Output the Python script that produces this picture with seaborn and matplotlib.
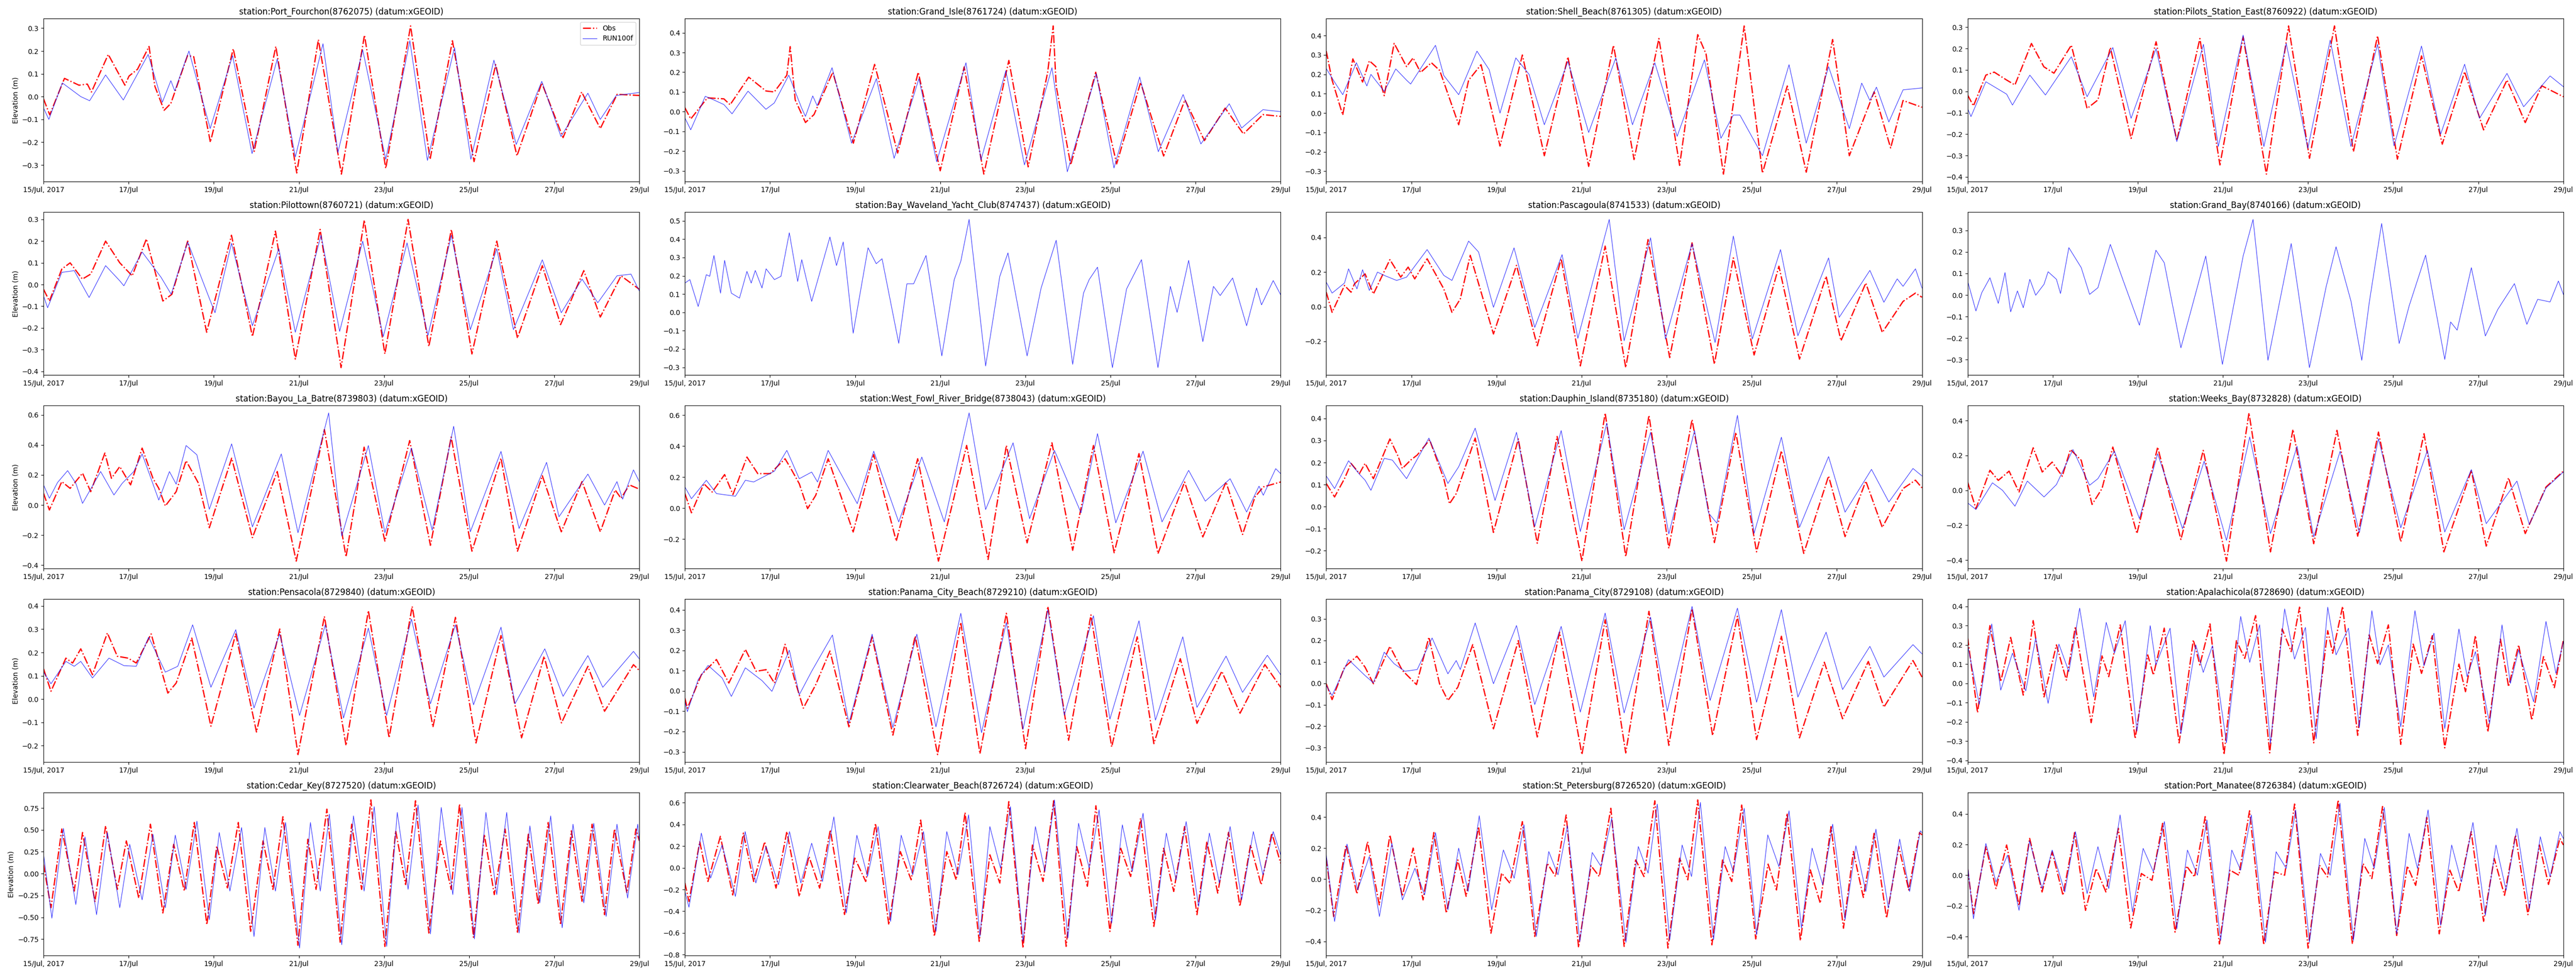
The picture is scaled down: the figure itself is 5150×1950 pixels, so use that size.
"""
Tide gauge comparison: observed water level vs RUN100f model, 20 Gulf stations
"""

import pandas as pd
import matplotlib
matplotlib.use("Agg")
import matplotlib.pyplot as plt
import seaborn as sns

# ========== TIME AXIS ==========
start = pd.Timestamp("2017-07-15")
tick_days = [0, 2, 4, 6, 8, 10, 12, 14]
tick_labels = ["15/Jul, 2017", "17/Jul", "19/Jul", "21/Jul",
               "23/Jul", "25/Jul", "27/Jul", "29/Jul"]

stations = ["Port_Fourchon", "Grand_Isle", "Shell_Beach", "Pilots_Station_East",
            "Pilottown", "Bay_Waveland_Yacht_Club", "Pascagoula", "Grand_Bay",
            "Bayou_La_Batre", "West_Fowl_River_Bridge", "Dauphin_Island", "Weeks_Bay",
            "Pensacola", "Panama_City_Beach", "Panama_City", "Apalachicola",
            "Cedar_Key", "Clearwater_Beach", "St_Petersburg", "Port_Manatee"]
station_ids = ["8762075", "8761724", "8761305", "8760922",
               "8760721", "8747437", "8741533", "8740166",
               "8739803", "8738043", "8735180", "8732828",
               "8729840", "8729210", "8729108", "8728690",
               "8727520", "8726724", "8726520", "8726384"]

# ========== DATA: (hours since 15 Jul 00:00, elevation m), read at turning points ==========
fourchon_obs = [(0, -0.01), (3.5, -0.08), (11.8, 0.08), (20, 0.05), (24.7, 0.055), (27, 0.02),
                (36.5, 0.185), (45.9, 0.05), (48.2, 0.09), (53, 0.12), (59.5, 0.22), (62.8, 0.045),
                (68, -0.06), (71.8, -0.03), (81.2, 0.18), (84.7, 0.175), (94.1, -0.2), (107, 0.21),
                (118.8, -0.24), (131, 0.22), (142.8, -0.335), (155, 0.25), (168, -0.34), (181, 0.27),
                (193, -0.315), (207, 0.31), (218, -0.275), (230.6, 0.245), (242.8, -0.285),
                (255, 0.14), (267, -0.26), (281, 0.06), (293, -0.18), (303.5, 0.02), (314, -0.14),
                (323.5, 0.01), (336, 0.005)]
fourchon_mod = [(0, -0.05), (3, -0.1), (10.6, 0.06), (21, 0.0), (26, -0.018), (35, 0.095),
                (45, -0.015), (59, 0.185), (67, -0.025), (71.8, 0.07), (74, 0.025), (82, 0.2),
                (94, -0.14), (106.6, 0.18), (117.6, -0.25), (131.8, 0.165), (142, -0.265),
                (157.6, 0.232), (166, -0.245), (180, 0.205), (193, -0.275), (206.6, 0.245),
                (216.5, -0.28), (231.8, 0.215), (241, -0.275), (254, 0.16), (266.6, -0.21),
                (281, 0.067), (291.8, -0.175), (307, 0.015), (314, -0.1), (323, 0.005), (336, 0.018)]

grand_isle_obs = [(0, 0.02), (3.3, -0.037), (12.7, 0.07), (22, 0.065), (25.5, 0.035), (36, 0.175),
                  (45.7, 0.105), (50.4, 0.1), (57.5, 0.185), (59.4, 0.33), (62.2, 0.06), (68, -0.055),
                  (72.8, -0.015), (83.4, 0.2), (95, -0.16), (107, 0.24), (120, -0.21), (131.6, 0.2),
                  (144, -0.3), (157.5, 0.227), (168.6, -0.317), (182.7, 0.26), (193.6, -0.28),
                  (204.6, 0.2), (207.7, 0.435), (209.4, 0.13), (217.6, -0.27), (231.7, 0.2),
                  (243.5, -0.265), (257, 0.148), (270, -0.225), (282, 0.06), (293, -0.147),
                  (304.7, 0.018), (315, -0.113), (326, -0.015), (336, -0.024)]
grand_isle_mod = [(0, -0.032), (3.3, -0.092), (11.5, 0.078), (16.2, 0.06), (22, 0.036), (26.6, -0.011),
                  (35.6, 0.104), (45.7, 0.012), (50.4, 0.044), (58.6, 0.185), (66, 0.015), (68, -0.024),
                  (72.1, 0.08), (74.6, 0.03), (83, 0.223), (94, -0.16), (108, 0.168), (118, -0.237),
                  (132, 0.168), (142, -0.254), (158.5, 0.248), (167, -0.245), (181, 0.208),
                  (191.5, -0.27), (207, 0.223), (215.7, -0.305), (232, 0.193), (242, -0.286),
                  (256.5, 0.176), (267, -0.203), (281, 0.087), (291, -0.164), (307, 0.04),
                  (314, -0.083), (326, 0.01), (336, 0.0)]

shell_beach_obs = [(0, 0.32), (3.3, 0.17), (9.3, -0.01), (15, 0.28), (20.5, 0.16), (24.3, 0.27),
                   (28, 0.24), (32.7, 0.09), (38.3, 0.36), (45.3, 0.24), (49, 0.285), (53.2, 0.21),
                   (59.3, 0.26), (64, 0.22), (74.7, -0.06), (80.3, 0.17), (87.3, 0.25), (98, -0.17),
                   (110.6, 0.3), (123, -0.22), (136.3, 0.29), (148, -0.275), (162, 0.35),
                   (173.6, -0.24), (187.6, 0.385), (199.3, -0.27), (209.5, 0.405), (214.2, 0.305),
                   (224, -0.315), (235.7, 0.45), (246, -0.31), (260, 0.14), (270.7, -0.305),
                   (285.6, 0.38), (295, -0.22), (309, 0.11), (318.3, -0.18), (325.3, 0.065), (336, 0.03)]
shell_beach_mod = [(0, 0.23), (4.7, 0.16), (9.3, 0.095), (17, 0.26), (22.9, 0.14), (25.2, 0.2),
                   (32.7, 0.112), (39.2, 0.228), (45.3, 0.17), (47.6, 0.15), (61.6, 0.35),
                   (66.3, 0.194), (74.7, 0.095), (85, 0.32), (91.9, 0.224), (98, 0.0), (106.9, 0.285),
                   (114.4, 0.2), (123, -0.06), (136.3, 0.267), (148, -0.1), (163.3, 0.285),
                   (172.7, -0.06), (185.3, 0.26), (197.9, -0.12), (213.3, 0.275), (222.6, -0.13),
                   (229.6, -0.01), (233.3, -0.01), (246, -0.22), (261, 0.25), (270.7, -0.155),
                   (283.3, 0.24), (295, -0.08), (302, 0.155), (306.6, 0.065), (310.3, 0.134),
                   (317.3, -0.046), (325.3, 0.12), (336, 0.13)]

pilots_obs = [(0, -0.017), (3.3, -0.068), (10.3, 0.076), (15, 0.09), (22, 0.053), (26.7, 0.03),
              (36, 0.224), (43, 0.115), (48.7, 0.085), (58.5, 0.216), (67.4, -0.08), (73.5, -0.04),
              (80.5, 0.205), (92.2, -0.22), (106.3, 0.232), (118, -0.23), (131, 0.247),
              (142.3, -0.344), (155.4, 0.255), (168.5, -0.387), (181, 0.306), (192.8, -0.313),
              (206.9, 0.306), (217.6, -0.282), (231.2, 0.26), (242.4, -0.317), (256, 0.166),
              (267.7, -0.247), (280.3, 0.092), (291, -0.18), (304.2, 0.053), (314.5, -0.146),
              (323.8, 0.026), (336, -0.025)]
pilots_mod = [(0, -0.08), (1.9, -0.118), (10.3, 0.045), (22, -0.013), (25.3, -0.064), (35.1, 0.076),
              (43.9, -0.017), (58.5, 0.162), (67.4, -0.025), (81.9, 0.205), (92.2, -0.126),
              (106.3, 0.2), (118, -0.235), (133, 0.22), (141.4, -0.258), (155.4, 0.263),
              (167.1, -0.258), (179.7, 0.224), (191.9, -0.266), (204.5, 0.24), (216.2, -0.258),
              (231.2, 0.22), (240.5, -0.255), (256, 0.212), (266.8, -0.2), (280.3, 0.127),
              (288.7, -0.126), (304.2, 0.084), (313.6, -0.072), (328.5, 0.072), (336, 0.022)]

pilottown_obs = [(0, -0.022), (3.3, -0.076), (10.3, 0.071), (15, 0.1), (21.9, 0.025), (26.6, 0.048),
                 (35, 0.2), (43, 0.1), (50, 0.04), (58, 0.21), (67.3, -0.076), (72.4, -0.045),
                 (81.3, 0.2), (92, -0.22), (106, 0.227), (117.8, -0.24), (130.8, 0.246),
                 (142, -0.344), (156, 0.254), (167.8, -0.383), (180.9, 0.297), (192.5, -0.32),
                 (205.6, 0.3), (217.3, -0.286), (230, 0.254), (241.6, -0.32), (255.6, 0.2),
                 (267.3, -0.247), (281.3, 0.087), (291.6, -0.185), (304.7, 0.064), (314, -0.15),
                 (325.7, 0.04), (336, -0.022)]
pilottown_mod = [(0, -0.053), (2.3, -0.107), (10.3, 0.056), (17.3, 0.064), (25.7, -0.06), (35, 0.087),
                 (43, 0.017), (45.3, -0.006), (55.6, 0.15), (66.3, 0.033), (72, -0.045),
                 (81.3, 0.196), (93, -0.053), (96.7, -0.13), (106, 0.19), (117.8, -0.19),
                 (132.7, 0.165), (142, -0.22), (156.5, 0.227), (167, -0.216), (180, 0.2),
                 (191.6, -0.24), (205, 0.192), (216.8, -0.235), (230, 0.227), (240.7, -0.208),
                 (255.6, 0.165), (265, -0.208), (281.3, 0.114), (292, -0.13), (303.7, 0.025),
                 (312.6, -0.084), (323.4, 0.04), (331.3, 0.048), (336, -0.03)]

bay_waveland_mod = [(0, 0.16), (2.8, 0.179), (7.5, 0.032), (12.1, 0.206), (14, 0.197), (16.4, 0.311),
                    (20.1, 0.105), (22.4, 0.284), (26.2, 0.105), (30.8, 0.078), (35, 0.224),
                    (37.4, 0.16), (39.7, 0.229), (43.5, 0.133), (45.8, 0.238), (50.5, 0.179),
                    (54.2, 0.197), (58.9, 0.435), (63.6, 0.169), (65.9, 0.288), (71.5, 0.06),
                    (81.8, 0.412), (85.5, 0.256), (89.3, 0.385), (94.9, -0.114), (103.3, 0.353),
                    (107.9, 0.266), (111.2, 0.293), (120.6, -0.169), (125.2, 0.156), (129, 0.156),
                    (136, 0.311), (144.9, -0.238), (151.9, 0.179), (155.6, 0.279), (160.3, 0.508),
                    (169.6, -0.293), (177.6, 0.197), (182.2, 0.325), (193, -0.238), (200.9, 0.133),
                    (209.4, 0.394), (218.7, -0.284), (224.8, 0.105), (228, 0.179), (232.7, 0.247),
                    (241.1, -0.302), (249.1, 0.128), (257.5, 0.288), (266.8, -0.302), (273.8, 0.142),
                    (277.6, 0.0), (284.1, 0.284), (292.1, -0.16), (298.1, 0.142), (301.9, 0.092),
                    (308.9, 0.188), (316.8, -0.073), (322.4, 0.133), (325.2, 0.041), (331.8, 0.174),
                    (336, 0.096)]

pascagoula_obs = [(0, 0.084), (3.3, -0.032), (10.3, 0.123), (14, 0.084), (15.9, 0.132), (21.9, 0.19),
                  (26.6, 0.074), (35.9, 0.272), (42, 0.171), (46.2, 0.229), (49.9, 0.161),
                  (56.9, 0.277), (61.6, 0.19), (66.3, 0.103), (70.9, -0.032), (75.6, 0.045),
                  (81.2, 0.297), (94.3, -0.157), (107.3, 0.239), (119, -0.225), (132.5, 0.277),
                  (143.3, -0.341), (157.3, 0.35), (168.9, -0.351), (181.5, 0.388), (193.7, -0.293),
                  (206.3, 0.369), (218.9, -0.331), (229.6, 0.282), (241.3, -0.278), (255.3, 0.234),
                  (266.9, -0.302), (281.9, 0.176), (290.3, -0.196), (304.3, 0.137), (313.6, -0.148),
                  (325.3, 0.031), (332.3, 0.079), (336, 0.055)]
pascagoula_mod = [(0, 0.142), (3.3, 0.079), (10.3, 0.137), (12.6, 0.219), (17.3, 0.103), (20.5, 0.214),
                  (24.3, 0.094), (28.9, 0.2), (32.7, 0.181), (39.7, 0.152), (45.3, 0.171),
                  (56.9, 0.33), (66.3, 0.181), (70.9, 0.152), (80.3, 0.379), (85.9, 0.316),
                  (94.3, -0.003), (105.9, 0.34), (117.6, -0.119), (133, 0.301), (141.9, -0.182),
                  (159.6, 0.504), (168, -0.196), (182.9, 0.398), (191.3, -0.186), (206.3, 0.364),
                  (219.3, -0.206), (229.6, 0.408), (240.3, -0.186), (256.2, 0.33), (266, -0.167),
                  (283.3, 0.282), (289.3, -0.061), (306.6, 0.21), (314.5, 0.026), (322, 0.161),
                  (325.3, 0.118), (332.3, 0.219), (336, 0.108)]

grand_bay_mod = [(0, 0.065), (4.7, -0.074), (8, 0.011), (12.6, 0.08), (17.3, -0.039), (21.1, 0.104),
                 (24.3, -0.078), (28.1, 0.019), (31.4, -0.059), (35.1, 0.073), (38.4, -0.001),
                 (43.1, 0.05), (45.4, 0.108), (50.1, 0.073), (52.4, 0.007), (57.1, 0.22),
                 (64.1, 0.127), (68.8, 0.003), (73.5, 0.034), (80.5, 0.235), (87.5, 0.073),
                 (96.9, -0.14), (106.2, 0.208), (110.9, 0.15), (120.3, -0.245), (134.3, 0.181),
                 (143.7, -0.322), (155.4, 0.181), (161, 0.351), (169.4, -0.303), (182.5, 0.239),
                 (192.8, -0.337), (202.2, 0.038), (207.8, 0.224), (216.2, -0.028), (222.3, -0.303),
                 (226.5, -0.036), (233.5, 0.332), (243.4, -0.225), (249, -0.051), (258.3, 0.185),
                 (269.1, -0.299), (272.4, -0.125), (276.1, -0.163), (284.1, 0.127), (292, -0.19),
                 (299, -0.067), (308.4, 0.053), (315.4, -0.136), (321.5, -0.02), (328.5, -0.032),
                 (333.2, 0.065), (336, 0.003)]

bayou_obs = [(0, 0.078), (3.3, -0.033), (10.3, 0.156), (15, 0.111), (22, 0.212), (26.6, 0.089),
             (34.6, 0.346), (38.3, 0.178), (43, 0.256), (49.1, 0.134), (55.6, 0.379), (61.7, 0.178),
             (65, 0.111), (68.7, -0.006), (74.8, 0.089), (80.4, 0.295), (87.4, 0.145),
             (93.5, -0.151), (106.1, 0.312), (117.8, -0.217), (131.8, 0.223), (142.5, -0.373),
             (158.4, 0.502), (170.6, -0.345), (180.8, 0.385), (192.5, -0.24), (206.5, 0.429),
             (218.2, -0.268), (229.9, 0.452), (241.6, -0.307), (258, 0.312), (267.3, -0.307),
             (281.3, 0.195), (292, -0.178), (303.7, 0.156), (314, -0.178), (322.4, 0.1),
             (325.7, 0.045), (330.4, 0.134), (336, 0.106)]
bayou_mod = [(0, 0.134), (3.3, 0.045), (7.9, 0.15), (13.6, 0.229), (18.2, 0.145), (22, 0.011),
             (32.2, 0.223), (39.7, 0.067), (44.4, 0.145), (50.9, 0.223), (55.6, 0.34), (65, 0.033),
             (71, 0.223), (74.8, 0.139), (80.4, 0.396), (86.5, 0.334), (93.5, -0.028),
             (106.1, 0.407), (117.8, -0.145), (134.1, 0.34), (143.5, -0.184), (160.8, 0.613),
             (168.2, -0.206), (183.2, 0.396), (192.5, -0.184), (207.5, 0.379), (219.2, -0.167),
             (231.3, 0.524), (240.7, -0.178), (258, 0.357), (268.2, -0.156), (283.7, 0.284),
             (290.7, -0.078), (307, 0.206), (316.4, 0.0), (323.4, 0.156), (326.6, 0.039),
             (332.7, 0.234), (336, 0.156)]

west_fowl_obs = [(0, 0.094), (3.7, -0.03), (10.7, 0.158), (15.4, 0.104), (22.4, 0.217), (27.1, 0.088),
                 (35, 0.33), (41.1, 0.223), (48.1, 0.223), (56.5, 0.319), (59.8, 0.255),
                 (64.5, 0.158), (69.2, -0.003), (73.8, 0.083), (80.8, 0.319), (94.9, -0.154),
                 (106.5, 0.346), (119.2, -0.213), (131.3, 0.319), (143, -0.342), (158.9, 0.405),
                 (171, -0.331), (181.3, 0.405), (193, -0.224), (207, 0.422), (218.7, -0.272),
                 (230.4, 0.405), (242.1, -0.288), (256.1, 0.352), (266.8, -0.294), (281.8, 0.169),
                 (292.1, -0.186), (305.2, 0.169), (314.5, -0.17), (321.5, 0.072), (326.2, 0.137),
                 (336, 0.169)]
west_fowl_mod = [(0, 0.137), (3.7, 0.061), (12.1, 0.18), (17.8, 0.094), (28.5, 0.077), (34.1, 0.18),
                 (38.8, 0.169), (50.5, 0.239), (57.5, 0.373), (64.5, 0.19), (71.5, 0.233),
                 (74.8, 0.169), (80.8, 0.373), (97.2, 0.029), (106.5, 0.368), (120.6, -0.089),
                 (133.6, 0.33), (146.3, -0.089), (160.3, 0.615), (169.6, -0.009), (185.1, 0.422),
                 (194.4, -0.068), (208.4, 0.373), (223.4, -0.03), (232.7, 0.481), (243, -0.095),
                 (258.4, 0.368), (269.1, -0.089), (284.1, 0.244), (293.5, 0.045), (307.5, 0.19),
                 (316.8, -0.025), (323.8, 0.142), (326.2, 0.083), (333.2, 0.255), (336, 0.223)]

dauphin_obs = [(0, 0.105), (4.7, 0.044), (10.3, 0.127), (14, 0.196), (18.7, 0.15), (21.9, 0.196),
               (26.6, 0.127), (35.9, 0.307), (40.6, 0.227), (42.9, 0.173), (47.6, 0.211),
               (51.3, 0.234), (58.3, 0.303), (66.3, 0.127), (69.5, 0.013), (73.3, 0.059),
               (84, 0.311), (94.3, -0.117), (108.3, 0.307), (119, -0.166), (130.2, 0.318),
               (144.2, -0.247), (157.3, 0.425), (168.9, -0.227), (182, 0.414), (193.2, -0.189),
               (206.3, 0.395), (218.9, -0.163), (231, 0.337), (242.7, -0.205), (256.7, 0.253),
               (269.3, -0.212), (283.3, 0.139), (292.6, -0.136), (304.3, 0.116), (313.6, -0.094),
               (325.3, 0.082), (332.3, 0.12), (336, 0.085)]
dauphin_mod = [(0, 0.139), (4.7, 0.082), (12.6, 0.208), (18.7, 0.147), (21.9, 0.12), (25.2, 0.074),
               (32.7, 0.219), (37.3, 0.211), (45.3, 0.127), (57.9, 0.311), (68.6, 0.105),
               (74.7, 0.181), (84, 0.356), (95.2, 0.028), (107.3, 0.337), (117.6, -0.09),
               (132.5, 0.345), (143.3, -0.113), (158.2, 0.379), (168, -0.105), (182.9, 0.337),
               (193.2, -0.124), (207.7, 0.345), (215.6, -0.029), (220.3, -0.075), (231.9, 0.414),
               (241.3, -0.121), (256.7, 0.315), (266.9, -0.094), (283.3, 0.227), (292.6, -0.025),
               (307.5, 0.169), (317.3, 0.021), (330.9, 0.173), (336, 0.139)]

weeks_obs = [(0, 0.048), (4.7, -0.105), (12.6, 0.115), (17.3, 0.057), (23.4, 0.11), (29, -0.01),
             (37, 0.244), (42.1, 0.105), (47.7, 0.162), (53.4, 0.081), (58, 0.234), (64.1, 0.172),
             (70.2, -0.081), (75.8, 0.01), (81.9, 0.248), (95.5, -0.248), (107.2, 0.248),
             (120.3, -0.282), (132.9, 0.229), (146, -0.406), (158.7, 0.444), (170.8, -0.353),
             (183.5, 0.349), (195.2, -0.306), (208.3, 0.344), (220, -0.263), (231.7, 0.334),
             (244.3, -0.296), (257.4, 0.325), (268.6, -0.353), (284.1, 0.115), (292.5, -0.32),
             (305.1, 0.072), (314.5, -0.248), (326.2, 0.019), (336, 0.11)]
weeks_mod = [(0, -0.072), (4.7, -0.11), (14, 0.043), (19.7, 0.0), (26.7, -0.091), (33.7, 0.053),
             (43.1, -0.038), (50.1, 0.033), (59.4, 0.234), (68.8, 0.029), (73.5, 0.067),
             (82.8, 0.224), (96.9, -0.162), (107.2, 0.21), (121.2, -0.22), (133.4, 0.167),
             (146, -0.287), (159.1, 0.306), (170.8, -0.248), (185.8, 0.253), (195.2, -0.267),
             (210.1, 0.224), (220.9, -0.244), (231.7, 0.296), (244.3, -0.215), (259.3, 0.229),
             (269.1, -0.239), (284.1, 0.119), (292.5, -0.191), (309.8, 0.053), (316.8, -0.196),
             (326.2, 0.014), (336, 0.105)]

pensacola_obs = [(0, 0.13), (4.2, 0.034), (12.6, 0.176), (16.4, 0.155), (21, 0.216), (27.6, 0.105),
                 (36, 0.284), (41.6, 0.184), (47.7, 0.176), (52.3, 0.155), (60.7, 0.28),
                 (70.1, 0.026), (74.8, 0.069), (83.6, 0.262), (94.4, -0.116), (108.4, 0.28),
                 (120.1, -0.141), (133.2, 0.301), (143.5, -0.238), (158.4, 0.355), (170.6, -0.199),
                 (183.2, 0.38), (194.9, -0.166), (207.9, 0.398), (219.6, -0.12), (232.3, 0.351),
                 (243.9, -0.188), (258, 0.273), (269.6, -0.166), (282.3, 0.184), (292.1, -0.102),
                 (307, 0.141), (316.4, -0.052), (332.7, 0.148), (336, 0.123)]
pensacola_mod = [(0, 0.116), (4.2, 0.066), (12.6, 0.162), (17.3, 0.141), (21, 0.162), (27.6, 0.091),
                 (36.9, 0.176), (45.3, 0.144), (52.3, 0.141), (59.3, 0.266), (68.7, 0.116),
                 (75.7, 0.141), (84.1, 0.319), (94.4, 0.051), (108.4, 0.298), (118.7, -0.038),
                 (133.2, 0.28), (144.4, -0.07), (158.9, 0.319), (169.2, -0.081), (183.2, 0.305),
                 (193.5, -0.07), (207.5, 0.344), (218.2, -0.02), (232.3, 0.319), (242.5, -0.024),
                 (258, 0.309), (265.9, -0.02), (282.7, 0.216), (293, 0.012), (307, 0.187),
                 (315.4, 0.051), (332.7, 0.205), (336, 0.173)]

pc_beach_obs = [(0, -0.036), (1.4, -0.085), (9.3, 0.08), (17.8, 0.155), (24.8, 0.039), (34.1, 0.205),
                (40.2, 0.097), (45.8, 0.105), (50.5, 0.039), (56.5, 0.23), (62.2, 0.047),
                (66.8, -0.085), (73.8, 0.031), (81.8, 0.197), (92.5, -0.177), (105.6, 0.267),
                (117.3, -0.218), (129.9, 0.271), (142.5, -0.314), (155.6, 0.338), (166.4, -0.31),
                (181.3, 0.383), (192.1, -0.285), (204.7, 0.417), (216.4, -0.243), (229, 0.375),
                (240.7, -0.276), (255.1, 0.267), (264.5, -0.26), (279.4, 0.159), (288.8, -0.16),
                (302.8, 0.097), (313.1, -0.11), (327.1, 0.13), (336, 0.018)]
pc_beach_mod = [(0, -0.052), (1.4, -0.102), (7.5, 0.056), (13.1, 0.126), (21, 0.064), (26.2, -0.027),
                (34.1, 0.114), (43.5, 0.051), (49.1, -0.002), (58.9, 0.201), (64.5, -0.019),
                (71.5, 0.097), (83.2, 0.276), (92.5, -0.16), (105.6, 0.28), (117.3, -0.181),
                (130.8, 0.28), (141.6, -0.177), (155.6, 0.383), (167.3, -0.206), (181.3, 0.338),
                (190.7, -0.189), (204.7, 0.4), (214, -0.119), (230.4, 0.371), (239.7, -0.139),
                (256.1, 0.346), (265.4, -0.144), (280.8, 0.267), (288.8, -0.081), (305.2, 0.172),
                (314.5, -0.007), (328.5, 0.176), (336, 0.08)]

pc_obs = [(0, -0.002), (3.3, -0.076), (10.3, 0.075), (17.3, 0.126), (21.9, 0.075), (26.6, -0.002),
          (35.9, 0.172), (42.9, 0.06), (50.9, -0.006), (57.9, 0.215), (63.9, -0.002),
          (68.6, -0.08), (74.2, -0.018), (82.6, 0.18), (94.3, -0.212), (108.3, 0.199),
          (119, -0.25), (131.6, 0.238), (144.2, -0.332), (157.3, 0.296), (168.9, -0.324),
          (182, 0.335), (193.2, -0.289), (206.3, 0.347), (217.9, -0.243), (231.9, 0.312),
          (242.7, -0.262), (256.7, 0.219), (266.9, -0.254), (280.9, 0.098), (291.2, -0.165),
          (305.7, 0.102), (314.5, -0.111), (330.9, 0.106), (336, 0.029)]
pc_mod = [(0, -0.01), (3.3, -0.057), (12.6, 0.11), (21.9, 0.036), (26.6, 0.002), (32.7, 0.145),
          (38.3, 0.091), (44.3, 0.056), (51.3, 0.064), (59.7, 0.211), (68.6, 0.044),
          (73.3, 0.106), (75.6, 0.064), (84, 0.281), (94.3, -0.002), (107.3, 0.269),
          (117.6, -0.099), (132.5, 0.265), (143.3, -0.134), (157.3, 0.327), (168, -0.138),
          (182.9, 0.308), (192.3, -0.13), (206.3, 0.358), (216.5, -0.08), (231.9, 0.35),
          (242.7, -0.088), (256.7, 0.343), (266, -0.064), (281.9, 0.238), (291.2, -0.029),
          (306.6, 0.172), (314.5, 0.029), (330.9, 0.18), (336, 0.137)]

apalach_obs = [(0, 0.239), (5.6, -0.152), (12.6, 0.3), (18.7, 0.009), (24.3, 0.239), (31.4, -0.061),
               (37, 0.326), (43.1, -0.07), (50.1, 0.2), (55.7, 0.017), (60.8, 0.296), (69.7, -0.204),
               (75.8, 0.143), (79.6, 0.035), (86.1, 0.304), (94.5, -0.287), (101.6, 0.148),
               (104.8, 0.043), (110.9, 0.287), (119.3, -0.309), (127.3, 0.226), (131, 0.096),
               (136.7, 0.309), (144.6, -0.37), (151.6, 0.222), (156.3, 0.13), (162.4, 0.352),
               (170.4, -0.361), (177.4, 0.283), (182.5, 0.165), (187.2, 0.396), (195.2, -0.309),
               (203.1, 0.274), (205.9, 0.157), (211.5, 0.4), (220, -0.27), (226.5, 0.252),
               (231.2, 0.104), (237.3, 0.304), (244.3, -0.317), (251.3, 0.204), (256, 0.052),
               (262.1, 0.248), (269.1, -0.335), (277.1, 0.1), (280.8, -0.043), (286.4, 0.248),
               (293.4, -0.252), (300.5, 0.23), (305.1, -0.017), (310.8, 0.2), (318.2, -0.191),
               (324.8, 0.139), (330.9, -0.022), (336, 0.226)]
apalach_mod = [(0, 0.2), (6.6, -0.109), (13.6, 0.309), (18.7, -0.035), (25.3, 0.157), (32.8, -0.039),
               (38.4, 0.235), (45.4, -0.104), (51.5, 0.204), (57.1, 0.061), (63.2, 0.391),
               (71.1, -0.07), (78.2, 0.317), (82.8, 0.157), (88.9, 0.326), (95.5, -0.248),
               (103, 0.3), (106.2, 0.096), (114.2, 0.287), (120.3, -0.261), (128.7, 0.2),
               (132.9, 0.057), (138.1, 0.196), (146, -0.309), (154, 0.348), (159.1, 0.109),
               (164.7, 0.304), (170.8, -0.313), (178.8, 0.387), (184.4, 0.126), (190.5, 0.291),
               (196.6, -0.287), (203.1, 0.396), (207.8, 0.148), (214.8, 0.287), (220.9, -0.23),
               (228, 0.378), (232.6, 0.096), (237.3, 0.2), (244.3, -0.226), (252.3, 0.378),
               (257.4, 0.091), (263, 0.261), (269.1, -0.235), (277.1, 0.283), (281.7, 0.035),
               (286.4, 0.165), (294.4, -0.209), (301.4, 0.304), (306.1, 0.0), (310.8, 0.174),
               (319.2, -0.096), (326.2, 0.322), (331.8, 0.052), (336, 0.217)]

cedar_key_obs = [(0, 0.105), (4.2, -0.39), (10.3, 0.51), (17.3, -0.2), (22, 0.47), (29, -0.32),
                 (35, 0.546), (41.6, -0.18), (46.7, 0.374), (53.7, -0.28), (60.3, 0.565),
                 (67.3, -0.45), (73.4, 0.335), (79.4, -0.2), (85, 0.585), (92.1, -0.585),
                 (97.7, 0.316), (103.7, -0.163), (109.8, 0.585), (116.8, -0.66), (123.8, 0.374),
                 (129.4, -0.18), (135, 0.65), (143.5, -0.82), (149.1, 0.393), (153.7, -0.18),
                 (159.8, 0.737), (167.3, -0.785), (173.8, 0.565), (179.4, -0.18), (184.6, 0.843),
                 (192.5, -0.833), (198.6, 0.489), (204.2, -0.125), (209.8, 0.833), (217.3, -0.68),
                 (223.8, 0.374), (229.9, -0.18), (234.6, 0.795), (242.5, -0.728), (248.6, 0.45),
                 (254.2, -0.24), (260.3, 0.51), (267.3, -0.67), (273.4, 0.45), (279, -0.354),
                 (284.6, 0.585), (291.6, -0.585), (297.7, 0.489), (303.7, -0.316), (309.4, 0.565),
                 (316.4, -0.47), (322, 0.51), (329, -0.22), (334.1, 0.51), (336, 0.374)]
cedar_key_mod = [(0, 0.22), (4.7, -0.51), (11.2, 0.517), (18.2, -0.354), (23.4, 0.42), (29.9, -0.47),
                 (36, 0.47), (43, -0.39), (48.6, 0.335), (55.6, -0.3), (61.7, 0.45), (68.7, -0.39),
                 (74.3, 0.44), (80.4, -0.18), (86.5, 0.6), (93.5, -0.527), (99.1, 0.47),
                 (105.1, -0.2), (111.7, 0.527), (118.7, -0.72), (124.8, 0.527), (130.8, -0.2),
                 (136.5, 0.585), (144.4, -0.852), (150.5, 0.585), (156.1, -0.2), (161.2, 0.68),
                 (168.2, -0.814), (174.8, 0.66), (180.8, -0.2), (186.5, 0.766), (193.5, -0.833),
                 (199.5, 0.7), (205.6, -0.18), (211.2, 0.785), (218.2, -0.69), (224.3, 0.757),
                 (230.8, -0.24), (236, 0.757), (243, -0.747), (249.5, 0.7), (255.6, -0.24),
                 (261.2, 0.7), (268.2, -0.68), (274.3, 0.546), (279.9, -0.335), (286, 0.66),
                 (292.5, -0.62), (298.6, 0.565), (304.7, -0.335), (310.3, 0.575), (317.3, -0.49),
                 (323.4, 0.565), (329.4, -0.28), (335.1, 0.565), (336, 0.374)]

clearwater_obs = [(0, -0.14), (2.3, -0.31), (8.4, 0.24), (13, -0.126), (20, 0.29), (27, -0.25),
                  (33, 0.32), (38.8, -0.126), (45, 0.24), (51.4, -0.187), (57.5, 0.334),
                  (64.5, -0.264), (70, 0.104), (76, -0.187), (82, 0.35), (90, -0.43), (95.8, 0.09),
                  (102, -0.126), (107.5, 0.41), (115, -0.525), (121.5, 0.15), (127.6, -0.11),
                  (133, 0.44), (140.7, -0.632), (147.7, 0.15), (153, -0.11), (158, 0.51),
                  (166, -0.678), (172, 0.12), (177.6, -0.14), (182.7, 0.61), (190.7, -0.74),
                  (196, 0.21), (202, -0.126), (208, 0.618), (215, -0.724), (221, 0.196),
                  (227, -0.17), (231.8, 0.572), (239.7, -0.586), (245.8, 0.18), (251.4, -0.08),
                  (257, 0.457), (264.5, -0.54), (270, 0.18), (275.7, -0.218), (281.8, 0.38),
                  (288.8, -0.432), (294.4, 0.242), (300.5, -0.233), (306.6, 0.327), (313, -0.356),
                  (319, 0.21), (325, -0.156), (331, 0.32), (336, 0.043)]
clearwater_mod = [(0, -0.218), (2.3, -0.363), (9.3, 0.32), (14.5, -0.095), (21, 0.21), (28.5, -0.264),
                  (34, 0.334), (40, -0.14), (45.8, 0.196), (52.8, -0.156), (59, 0.334),
                  (65.4, -0.14), (71.5, 0.227), (77.6, -0.126), (84, 0.47), (91, -0.417), (97, 0.3),
                  (103, -0.08), (109, 0.38), (116, -0.494), (122, 0.3), (128.5, -0.064),
                  (134.6, 0.334), (141.6, -0.586), (147.7, 0.334), (154, -0.064), (160, 0.488),
                  (166.4, -0.632), (172, 0.38), (178, -0.003), (183.6, 0.564), (190.7, -0.678),
                  (197.7, 0.38), (203, -0.034), (208.4, 0.626), (216, -0.647), (222, 0.41),
                  (228, -0.003), (233.6, 0.534), (240.7, -0.51), (246.7, 0.396), (252.3, -0.034),
                  (258.4, 0.503), (265.4, -0.48), (271.5, 0.32), (277, -0.11), (282.7, 0.426),
                  (289.7, -0.356), (295.8, 0.32), (301.4, -0.14), (307.5, 0.38), (314, -0.294),
                  (320.6, 0.334), (326, -0.064), (331.8, 0.334), (336, 0.12)]

st_pete_obs = [(0, 0.135), (4.2, -0.24), (11.2, 0.22), (17.3, -0.095), (23.3, 0.242), (29.9, -0.165),
               (35.9, 0.285), (42.9, -0.11), (49, 0.2), (54.6, -0.133), (60.7, 0.3), (67.7, -0.218),
               (74.2, 0.124), (78.9, -0.11), (85.9, 0.338), (92.9, -0.347), (98.9, 0.039),
               (103.6, -0.026), (110.6, 0.37), (117.6, -0.368), (124.6, 0.103), (129.3, 0.017),
               (135.3, 0.413), (142.3, -0.438), (149.3, 0.087), (154, 0.017), (160.5, 0.456),
               (168, -0.432), (174.5, 0.124), (179.2, 0.017), (185.3, 0.504), (192.7, -0.443),
               (199.3, 0.135), (203.9, -0.004), (209.5, 0.51), (217.5, -0.422), (223.5, 0.124),
               (228.7, -0.015), (234.3, 0.477), (242.2, -0.384), (249.2, 0.097), (253.9, -0.069),
               (259.9, 0.424), (267.4, -0.395), (273, 0.06), (278.6, -0.154), (284.7, 0.338),
               (291.7, -0.315), (297.3, 0.178), (302.9, -0.117), (309, 0.295), (316, -0.25),
               (322.9, 0.21), (328.5, -0.069), (334.6, 0.3), (336, 0.285)]
st_pete_mod = [(0, 0.156), (4.7, -0.272), (11.7, 0.226), (17.7, -0.069), (24.3, 0.146), (30, -0.24),
               (37, 0.231), (43, -0.133), (50, 0.07), (55.5, -0.1), (61.6, 0.3), (68.6, -0.197),
               (74.7, 0.2), (80, -0.079), (86.3, 0.408), (93.3, -0.197), (99.9, 0.188),
               (106, 0.006), (111.5, 0.35), (118.5, -0.368), (125.5, 0.178), (130.7, 0.028),
               (136, 0.344), (143, -0.4), (150, 0.172), (155, 0.081), (161, 0.392), (169, -0.406),
               (176, 0.21), (181.5, 0.039), (186.7, 0.483), (193.7, -0.39), (200.7, 0.22),
               (206, 0.017), (211, 0.494), (218.4, -0.39), (225, 0.21), (229.6, 0.049),
               (235.7, 0.456), (242.7, -0.358), (249, 0.285), (255.3, 0.081), (261, 0.44),
               (268, -0.315), (274, 0.2), (280, -0.036), (285.6, 0.354), (292.6, -0.26),
               (298.7, 0.215), (304.3, -0.079), (310, 0.322), (317, -0.186), (323.4, 0.258),
               (329, -0.079), (335, 0.311), (336, 0.3)]

manatee_obs = [(0, 0.044), (3.3, -0.251), (10.3, 0.186), (16, -0.087), (22, 0.197), (29, -0.197),
               (35, 0.24), (42, -0.109), (47.7, 0.153), (53.8, -0.131), (60.4, 0.278), (66.5, -0.229),
               (72.5, 0.044), (78, -0.109), (85, 0.306), (92, -0.344), (98, 0.011), (104, -0.033),
               (110, 0.338), (117, -0.371), (123.5, 0.06), (128, -0.011), (134, 0.382),
               (142, -0.448), (148, 0.033), (153, 0.0), (159, 0.42), (167, -0.453), (173, 0.022),
               (178.8, 0.0), (184.4, 0.464), (192, -0.475), (198.4, 0.066), (203, -0.011),
               (209, 0.491), (217, -0.448), (223, 0.076), (228, -0.022), (234, 0.448),
               (242, -0.393), (248, 0.06), (252.7, -0.066), (259, 0.377), (266, -0.382),
               (272, 0.033), (277, -0.109), (284, 0.284), (291, -0.3), (297, 0.109),
               (302.8, -0.131), (309, 0.262), (316, -0.257), (322.5, 0.197), (327.6, -0.06),
               (334, 0.24), (336, 0.197)]
manatee_mod = [(0, 0.066), (3.3, -0.284), (10.3, 0.207), (16, -0.044), (22.5, 0.131), (29, -0.229),
               (35, 0.224), (42, -0.087), (47.7, 0.164), (54.8, -0.109), (60.8, 0.284),
               (67.4, -0.12), (73.5, 0.186), (79.6, -0.087), (86, 0.393), (93, -0.24), (99, 0.175),
               (104.8, 0.022), (111, 0.35), (118, -0.35), (124, 0.164), (129.6, 0.0), (135, 0.36),
               (142.7, -0.426), (149, 0.164), (154, 0.033), (160, 0.393), (168, -0.437),
               (174, 0.153), (179.7, 0.044), (185, 0.426), (192.8, -0.437), (199, 0.142),
               (204.5, 0.0), (210, 0.47), (217.6, -0.426), (224, 0.24), (229.3, 0.044),
               (235, 0.442), (242, -0.382), (249, 0.273), (253.7, 0.044), (259.7, 0.426),
               (266.8, -0.327), (273, 0.197), (278.5, -0.044), (285, 0.344), (292, -0.262),
               (298, 0.197), (303.7, -0.098), (309.8, 0.306), (316.8, -0.218), (323, 0.251),
               (328.5, -0.011), (334, 0.284), (336, 0.24)]

obs_series = [fourchon_obs, grand_isle_obs, shell_beach_obs, pilots_obs,
              pilottown_obs, None, pascagoula_obs, None,
              bayou_obs, west_fowl_obs, dauphin_obs, weeks_obs,
              pensacola_obs, pc_beach_obs, pc_obs, apalach_obs,
              cedar_key_obs, clearwater_obs, st_pete_obs, manatee_obs]
mod_series = [fourchon_mod, grand_isle_mod, shell_beach_mod, pilots_mod,
              pilottown_mod, bay_waveland_mod, pascagoula_mod, grand_bay_mod,
              bayou_mod, west_fowl_mod, dauphin_mod, weeks_mod,
              pensacola_mod, pc_beach_mod, pc_mod, apalach_mod,
              cedar_key_mod, clearwater_mod, st_pete_mod, manatee_mod]


def to_frame(pairs):
    hours, elev = zip(*pairs)
    return pd.DataFrame({"time": start + pd.to_timedelta(list(hours), unit="h"),
                         "elev": list(elev)})


# ========== PLOT ==========
fig, axes = plt.subplots(5, 4, figsize=(51.5, 19.5), dpi=100)
plt.subplots_adjust(left=0.0169, right=0.9951, top=0.981, bottom=0.020,
                    wspace=0.0765, hspace=0.187)

tick_pos = [start + pd.Timedelta(days=d) for d in tick_days]

for i, ax in enumerate(axes.flat):
    if obs_series[i] is not None:
        sns.lineplot(data=to_frame(obs_series[i]), x="time", y="elev", ax=ax,
                     color="red", linestyle="-.", linewidth=1.8, label="Obs",
                     legend=False, errorbar=None)
    sns.lineplot(data=to_frame(mod_series[i]), x="time", y="elev", ax=ax,
                 color="blue", linewidth=0.8, alpha=0.8, label="RUN100f",
                 legend=False, errorbar=None)
    ax.set_title(f"station:{stations[i]}({station_ids[i]}) (datum:xGEOID)")
    ax.set_xlim(start, start + pd.Timedelta(days=14))
    ax.set_xticks(tick_pos)
    ax.set_xticklabels(tick_labels)
    ax.set_xlabel("")
    ax.set_ylabel("Elevation (m)" if i % 4 == 0 else "")

axes[0, 0].legend(loc="upper right")

fig.savefig("out.png", dpi=100)
print("Saved: out.png")
